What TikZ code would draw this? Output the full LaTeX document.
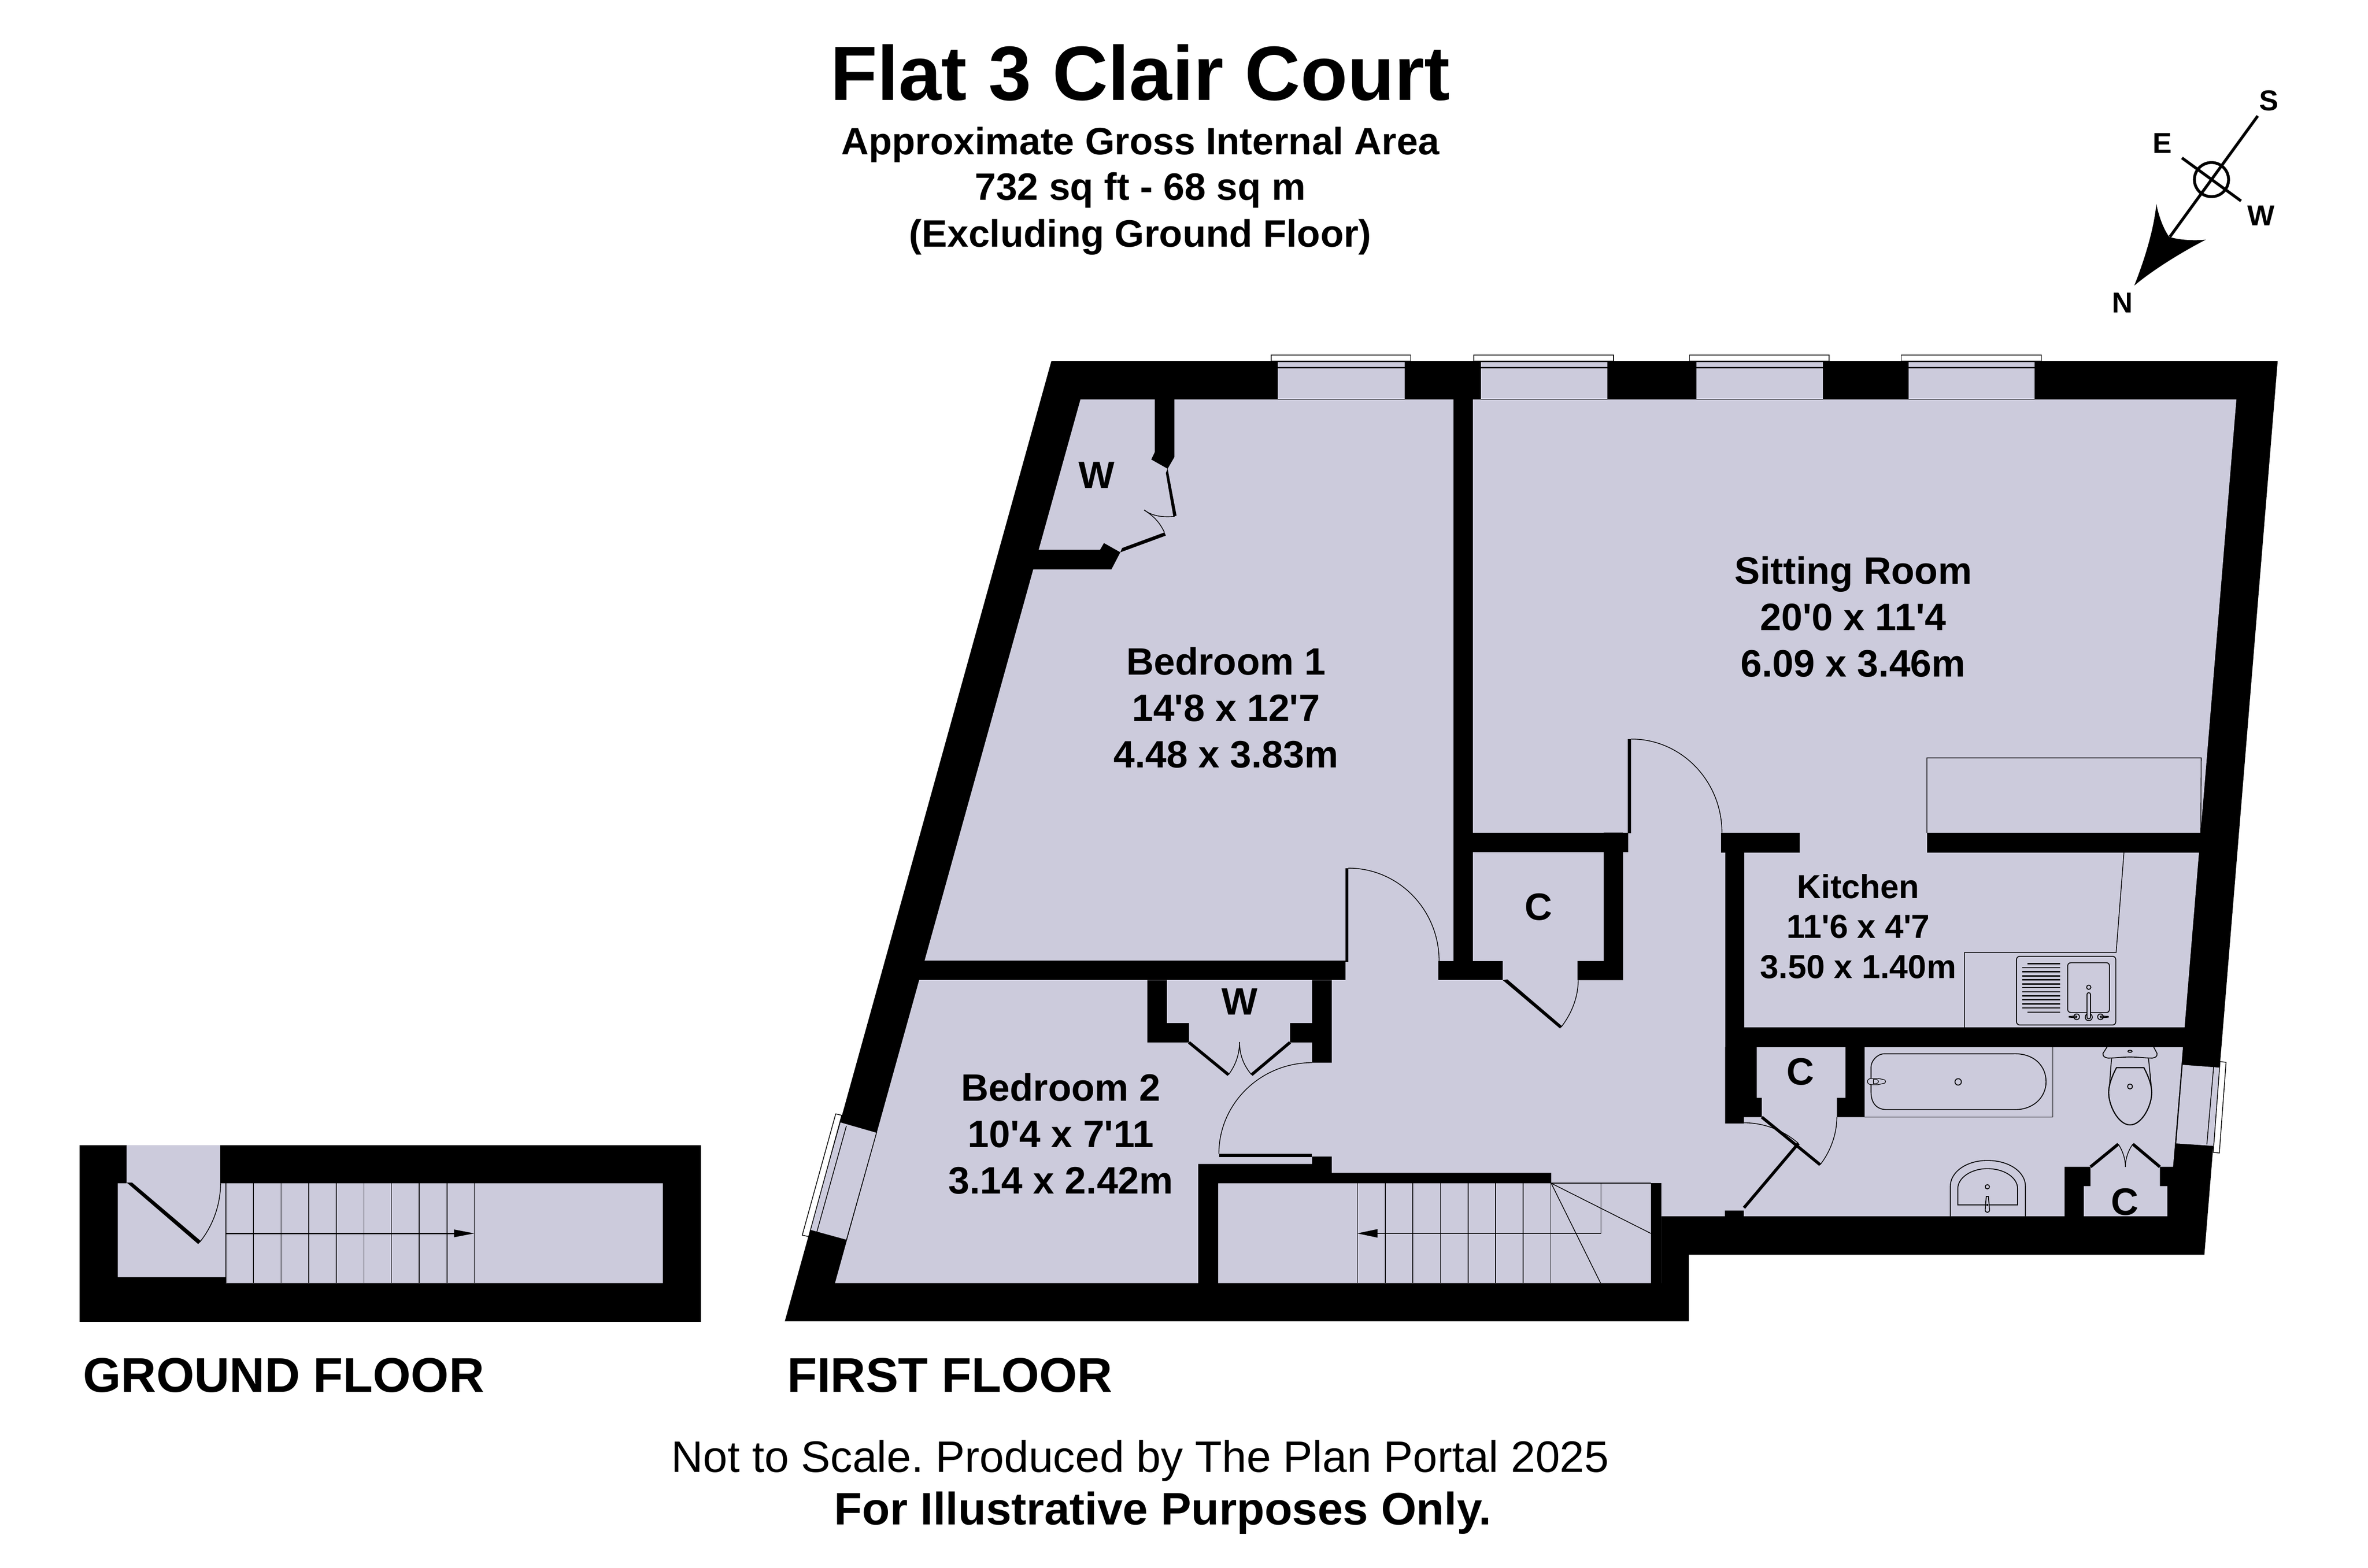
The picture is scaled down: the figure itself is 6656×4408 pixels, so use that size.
\documentclass[tikz,border=0pt]{standalone}
\usepackage{fontspec}
\newfontfamily\plansans{Liberation Sans}
\definecolor{floorc}{RGB}{204,203,220}
\tikzset{
  wallfill/.style={fill=black,draw=none},
  floorfill/.style={fill=floorc,draw=none},
  thin line/.style={draw=black,line width=0.6pt},
  fixture/.style={draw=black,line width=0.7pt,fill=none},
  leaf/.style={draw=black,line width=2.4pt},
  drainer/.style={draw=black,line width=1pt},
  frame/.style={fill=white,draw=black,line width=0.6pt},
  compassline/.style={draw=black,line width=2.3pt},
  roomlabel/.style={font=\plansans\bfseries\fontsize{30.5}{37}\selectfont,align=center,inner sep=0pt},
  kitlabel/.style={font=\plansans\bfseries\fontsize{26.6}{31.9}\selectfont,align=center,inner sep=0pt},
  letterlabel/.style={font=\plansans\bfseries\fontsize{30.5}{36}\selectfont,inner sep=0pt},
  compasslabel/.style={font=\plansans\bfseries\fontsize{23}{27}\selectfont,inner sep=0pt},
  titlelabel/.style={font=\plansans\bfseries\fontsize{61.5}{72}\selectfont,inner sep=0pt,anchor=base},
  sublabel/.style={font=\plansans\bfseries\fontsize{30.5}{36}\selectfont,inner sep=0pt,anchor=base},
  floorlabel/.style={font=\plansans\bfseries\fontsize{39}{48}\selectfont,inner sep=0pt,anchor=base west},
  footlabel/.style={font=\frenchspacing\plansans\fontsize{35.2}{42}\selectfont,inner sep=0pt,anchor=base},
  footbold/.style={font=\frenchspacing\plansans\bfseries\fontsize{36.4}{42}\selectfont,inner sep=0pt,anchor=base},
}
\begin{document}
\begin{tikzpicture}[x=0.01cm,y=-0.01cm]
\useasboundingbox (0,0) rectangle (6656,4408);
\fill[white] (0,0) rectangle (6656,4408);
%--- first floor shell
\path[wallfill] (2955,1016) -- (6402,1016) -- (6196,3528) -- (4747,3528) -- (4747,3715) -- (2206,3715) -- cycle;
%--- floor contour
\path[floorfill] (3037,1123) -- (6286,1123) -- (6108,3281) -- (6071,3281) -- (6071,3335) -- (6092,3335) -- (6092,3420)
  -- (5857,3420) -- (5857,3335) -- (5876,3335) -- (5876,3281) -- (5803,3281) -- (5803,3420) -- (4670,3420)
  -- (4670,3608) -- (2347,3608) -- cycle;
%--- windows (top)
\foreach \a/\b/\c/\d in {3573/3965/3592/3948,4143/4535/4162/4518,4749/5141/4768/5124,5344/5738/5365/5719}{
  \path[floorfill] (\c,1018) rectangle (\d,1122);
  \fill[black] (\c,1032) rectangle (\d,1035);
  \fill[black] (\c,1122) rectangle (\d,1124);
  \path[frame] (\a,998) rectangle (\b,1016);
  \draw[black,line width=0.7pt] (\a,998) -- (\b,998);
}
%--- bedroom 2 window
\path[floorfill] (2363,3155) -- (2464,3184) -- (2379,3487) -- (2277,3459) -- cycle;
\path[frame] (2349,3132) -- (2366,3136) -- (2273,3477) -- (2255,3473) -- cycle;
\draw[thin line] (2379,3166) -- (2296,3464);
\draw[thin line] (2363,3155) -- (2464,3184) -- (2379,3487) -- (2277,3459);
%--- bathroom window
\path[floorfill] (6134,2994) -- (6240,3002) -- (6221,3222) -- (6116,3215) -- cycle;
\path[frame] (6240,2985) -- (6257,2987) -- (6238,3242) -- (6221,3240) -- cycle;
\draw[thin line] (6222,3000) -- (6203,3218);
\draw[thin line] (6134,2994) -- (6116,3215);
%--- walls
\path[wallfill] (3246,1100) -- (3301,1100) -- (3301,1285) -- (3282,1318) -- (3236,1292) -- (3246,1271) -- cycle;
\path[wallfill] (2900,1546) -- (3092,1546) -- (3103,1527) -- (3149,1553) -- (3124,1601) -- (2880,1601) -- cycle;
\path[wallfill] (2570,2701) rectangle (3782,2756);
\path[wallfill] (3225,2756) -- (3280,2756) -- (3280,2877) -- (3342,2877) -- (3342,2931) -- (3225,2931) -- cycle;
\path[wallfill] (3688,2756) -- (3743,2756) -- (3743,2988) -- (3688,2988) -- (3688,2931) -- (3626,2931) -- (3626,2877) -- (3688,2877) -- cycle;
\path[wallfill] (3368,3273) -- (3688,3273) -- (3688,3252) -- (3743,3252) -- (3743,3298) -- (4360,3298) -- (4360,3327) -- (3424,3327) -- (3424,3620) -- (3368,3620) -- cycle;
\path[wallfill] (4640,3327) rectangle (4670,3620);
\path[wallfill] (4086,1100) rectangle (4140,2756);
\path[wallfill] (4043,2702) rectangle (4224,2756);
\path[wallfill] (4086,2341) rectangle (4576,2396);
\path[wallfill] (4508,2341) -- (4562,2341) -- (4562,2756) -- (4434,2756) -- (4434,2702) -- (4508,2702) -- cycle;
\path[wallfill] (4838,2341) rectangle (5058,2397);
\path[wallfill] (4849,2341) rectangle (4903,2950);
\path[wallfill] (5416,2342) rectangle (6230,2397);
\path[wallfill] (4849,2889) rectangle (6200,2944);
\path[wallfill] (4849,2944) -- (4938,2944) -- (4938,3087) -- (4952,3087) -- (4952,3141) -- (4902,3141) -- (4902,3159) -- (4849,3159) -- cycle;
\path[wallfill] (5187,2944) -- (5241,2944) -- (5241,3141) -- (5163,3141) -- (5163,3087) -- (5187,3087) -- cycle;
\path[wallfill] (4848,3404) rectangle (4902,3425);
%--- door leaves
\path[wallfill] (3277,1330) -- (3282,1318) -- (3307,1450) -- (3298,1452) -- cycle;
\path[wallfill] (3149,1553) -- (3277,1506) -- (3273,1497) -- (3154,1541) -- cycle;
\path[wallfill] (3782,2441) rectangle (3790,2705);
\path[wallfill] (4575,2078) rectangle (4585,2343);
\path[wallfill] (3426,3244) rectangle (3688,3254);
\path[wallfill] (4224,2756) -- (4237,2754) -- (4390,2885) -- (4385,2892) -- cycle;
\draw[leaf] (3342,2931) -- (3453,3022);
\draw[leaf] (3626,2931) -- (3518,3022);
\draw[leaf] (4952,3141) -- (5116,3275);
\draw[leaf] (4902,3396) -- (5055,3215);
\draw[leaf] (5876,3281) -- (5954,3217);
\draw[leaf] (6071,3281) -- (5995,3217);
%--- door swings
\draw[thin line] (3302,1452) .. controls (3270,1455) and (3240,1452) .. (3216,1434);
\draw[thin line] (3273,1497) .. controls (3258,1465) and (3240,1450) .. (3216,1434);
\draw[thin line] (3790,2441) .. controls (3931,2441) and (4045,2558) .. (4045,2702);
\draw[thin line] (4585,2078) .. controls (4726,2078) and (4840,2196) .. (4840,2341);
\draw[thin line] (3688,2988) .. controls (3543,2988) and (3426,3103) .. (3426,3244);
\draw[thin line] (4388,2888) .. controls (4417,2851) and (4436,2804) .. (4436,2756);
\draw[thin line] (5116,3275) .. controls (5145,3238) and (5163,3189) .. (5163,3141);
\draw[thin line] (4902,3157) .. controls (4958,3157) and (5013,3178) .. (5055,3215);
\draw[thin line] (3453,3022) .. controls (3473,2995) and (3484,2965) .. (3484,2930);
\draw[thin line] (3518,3022) .. controls (3495,2995) and (3484,2965) .. (3484,2930);
\draw[thin line] (5954,3217) .. controls (5966,3235) and (5974,3258) .. (5974,3281);
\draw[thin line] (5995,3217) .. controls (5982,3235) and (5974,3258) .. (5974,3281);
%--- stairs first floor
\foreach \x in {3816,3894,3971,4049,4127,4204,4281,4359}{\draw[thin line] (\x,3327) -- (\x,3608);}
\draw[thin line] (4360,3327) -- (4640,3327);
\draw[thin line] (4500,3327) -- (4500,3468) -- (3830,3468);
\draw[thin line] (4360,3327) -- (4640,3468);
\draw[thin line] (4360,3327) -- (4499,3608);
\fill[black] (3815,3468) -- (3872,3456) -- (3872,3480) -- cycle;
%--- kitchen fittings
\draw[thin line] (5416,2342) -- (5416,2131) -- (6187,2131) -- (6186,2342);
\draw[thin line] (5970,2397) -- (5948,2678) -- (5522,2678) -- (5522,2889);
\draw[fixture] (5677,2689) -- (5938,2689) to[out=0,in=90] (5947,2698) -- (5947,2873) to[out=-90,in=0] (5938,2882) -- (5677,2882) to[out=180,in=-90] (5668,2873) -- (5668,2698) to[out=90,in=180] cycle;
\draw[fixture] (5821,2707) -- (5921,2707) to[out=0,in=90] (5929,2715) -- (5929,2839) to[out=-90,in=0] (5921,2847) -- (5821,2847) to[out=180,in=-90] (5812,2839) -- (5812,2715) to[out=90,in=180] cycle;
\foreach \y in {2721,2732,2744,2755,2767,2777,2789,2800,2811,2823,2834}{\draw[drainer] (5684,\y) -- (5791,\y);}
\foreach \y in {2710,2846}{\draw[drainer] (5699,\y) -- (5791,\y);}
\draw[fixture] (5871,2776) circle (6);
\draw[fixture] (5871,2860) circle (10);
\draw[fixture,fill=floorc] (5866,2860) -- (5866,2796) to[out=90,in=90,looseness=1.6] (5876,2796) -- (5876,2860) to[out=-90,in=-90,looseness=1.6] cycle;
\draw[fixture] (5837,2859) circle (8);
\draw[fixture] (5904,2859) circle (8);
\draw[fixture] (5837,2857) -- (5816,2858) -- (5816,2860) -- (5837,2862);
\draw[fixture] (5904,2857) -- (5926,2858) -- (5926,2860) -- (5904,2862);
\fill[black] (5837,2859) circle (2.5);
\fill[black] (5904,2859) circle (2.5);
%--- bath
\draw[thin line] (5770,2944) -- (5770,3141) -- (5241,3141);
\draw[fixture] (5297,2963) -- (5659,2963) .. controls (5715,2961) and (5751,2995) .. (5751,3042) .. controls (5751,3085) and (5715,3122) .. (5659,3120) -- (5303,3120) .. controls (5278,3120) and (5259,3105) .. (5259,3070) -- (5259,3000) .. controls (5259,2985) and (5275,2963) .. cycle;
\draw[fixture] (5504,3042) circle (9);
\draw[fixture,fill=floorc,line width=0.5pt] (5262,3032) .. controls (5253,3032) and (5249,3036) .. (5249,3041) .. controls (5249,3046) and (5253,3050) .. (5262,3050) -- (5278,3050) -- (5296,3046) .. controls (5301,3045) and (5301,3037) .. (5296,3036) -- (5278,3032) -- cycle;
\draw[fixture,line width=0.5pt] (5266,3035) -- (5266,3047) -- (5274,3047) .. controls (5282,3045) and (5282,3037) .. (5274,3035) -- cycle;
%--- toilet
\draw[fixture] (5923,2943) -- (5911,2962) .. controls (5910,2970) and (5916,2974) .. (5925,2975) .. controls (5950,2975) and (5965,2972) .. (5987,2972) .. controls (6009,2972) and (6025,2975) .. (6050,2975) .. controls (6059,2974) and (6064,2970) .. (6063,2962) -- (6053,2943);
\draw[fixture] (5987,2956) ellipse (6 and 3);
\draw[fixture] (5935,2976) -- (5929,3057);
\draw[fixture] (6039,2976) -- (6047,3057);
\draw[fixture,line width=0.9pt] (5949,3002) -- (6026,3002) .. controls (6038,3025) and (6048,3050) .. (6048,3072) .. controls (6048,3110) and (6020,3163) .. (5987,3163) .. controls (5955,3163) and (5927,3110) .. (5927,3072) .. controls (5927,3050) and (5937,3025) .. cycle;
\draw[fixture] (5987,3055) circle (7);
%--- basin
\draw[fixture] (5482,3420) -- (5482,3335) .. controls (5482,3297) and (5525,3263) .. (5586,3263) .. controls (5650,3263) and (5693,3297) .. (5693,3335) -- (5693,3420);
\draw[fixture] (5503,3388) -- (5503,3342) .. controls (5503,3312) and (5540,3286) .. (5586,3286) .. controls (5635,3286) and (5671,3312) .. (5671,3342) -- (5671,3388) -- cycle;
\draw[fixture] (5586,3337) circle (6);
\draw[fixture,fill=floorc] (5583,3364) -- (5589,3364) -- (5592,3400) .. controls (5594,3412) and (5578,3412) .. (5580,3400) -- cycle;
\fill[black] (5586,3388) circle (3);
%--- ground floor
\path[wallfill] (223,3220) rectangle (1970,3716);
\path[floorfill] (356,3220) -- (619,3220) -- (619,3327) -- (1863,3327) -- (1863,3608) -- (635,3608) -- (635,3591) -- (331,3591) -- (331,3327) -- (356,3327) -- cycle;
\foreach \x in {635,712,790,868,945,1023,1100,1178,1257,1333}{\draw[thin line] (\x,3327) -- (\x,3608);}
\draw[thin line,line width=1pt] (635,3468) -- (1290,3468);
\fill[black] (1333,3468) -- (1276,3457) -- (1276,3479) -- cycle;
\path[wallfill] (356,3325) -- (371,3325) -- (565,3490) -- (557,3498) -- cycle;
\draw[thin line] (562,3492) .. controls (599,3446) and (620,3386) .. (620,3327);
%--- compass
\draw[compassline] (6346,326) -- (6099,666);
\draw[compassline] (6133,444) -- (6299,565);
\draw[compassline] (6216,505) circle (48);
\fill[black] (5999,803) .. controls (6030,725) and (6055,640) .. (6061,573) .. controls (6068,610) and (6082,645) .. (6097,666) .. controls (6125,675) and (6165,677) .. (6200,674) .. controls (6130,710) and (6050,760) .. cycle;
\node[compasslabel] (cs) at (6377,283) {S};
\node[compasslabel] (ce) at (6078,403) {E};
\node[compasslabel] (cw) at (6355,606) {W};
\node[compasslabel] (cn) at (5965,851) {N};
%--- labels
\node[titlelabel] (title) at (3205,281) {Flat 3 Clair Court};
\node[sublabel] (sub1) at (3205,435) {Approximate Gross Internal Area};
\node[sublabel] (sub2) at (3205,563) {732 sq ft - 68 sq m};
\node[sublabel] (sub3) at (3205,694) {(Excluding Ground Floor)};
\node[roomlabel] (bed1) at (3446,1990) {Bedroom 1\\14'8 x 12'7\\4.48 x 3.83m};
\node[roomlabel] (sit) at (5209,1734) {Sitting Room\\20'0 x 11'4\\6.09 x 3.46m};
\node[roomlabel] (bed2) at (2982,3188) {Bedroom 2\\10'4 x 7'11\\3.14 x 2.42m};
\node[kitlabel] (kit) at (5223,2605) {Kitchen\\11'6 x 4'7\\3.50 x 1.40m};
\node[letterlabel] (w1) at (3083,1336) {W};
\node[letterlabel] (w2) at (3484,2817) {W};
\node[letterlabel] (c1) at (4324,2550) {C};
\node[letterlabel] (c2) at (5061,3014) {C};
\node[letterlabel] (c3) at (5973,3379) {C};
\node[floorlabel] (gf) at (233,3914) {GROUND FLOOR};
\node[floorlabel] (ff) at (2212,3914) {FIRST FLOOR};
\node[footlabel] (foot1) at (3205,4139) {Not to Scale. Produced by The Plan Portal 2025};
\node[footbold] (foot2) at (3269,4287) {For Illustrative Purposes Only.};
\end{tikzpicture}
\end{document}
